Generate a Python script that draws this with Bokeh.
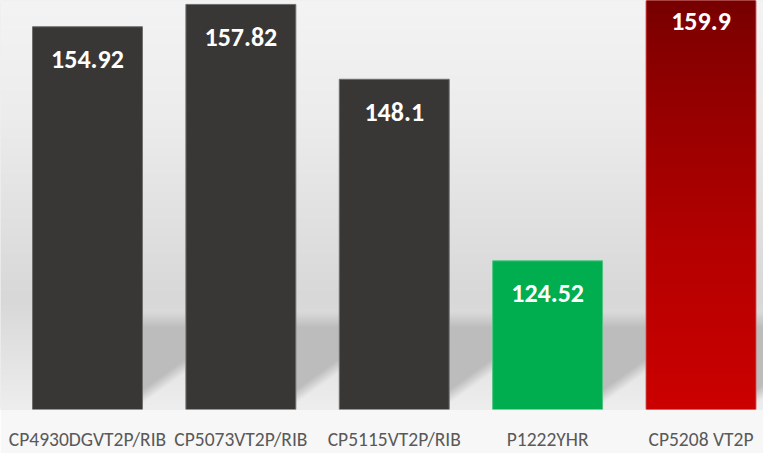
import numpy as np
from bokeh.plotting import figure
from bokeh.models import FixedTicker, Range1d, ColumnDataSource
from bokeh.core.properties import value
from bokeh.embed import file_html
from bokeh.resources import INLINE

categories = ["CP4930DGVT2P/RIB", "CP5073VT2P/RIB", "CP5115VT2P/RIB", "P1222YHR", "CP5208 VT2P"]
values = [154.92, 157.82, 148.1, 124.52, 159.9]
labels = ["154.92", "157.82", "148.1", "124.52", "159.9"]
bar_colors = ["#393735", "#393735", "#393735", "#00ae4f", "#c00000"]
edge_colors = ["#6e6e6e", "#6e6e6e", "#6e6e6e", "#4cc47f", "#d86060"]

FONT = "Carlito"
W, H = 763, 410          # frame size in px
Y0, Y1 = 105.21, 158.33  # value axis window
X0, X1 = -0.5672, 4.4075
BW = 0.7166

idx = list(range(len(categories)))

p = figure(width=763, height=453, x_range=Range1d(X0, X1), y_range=Range1d(Y0, Y1),
           output_backend="svg", toolbar_location=None, y_axis_location=None,
           min_border_left=0, min_border_right=0, min_border_top=0, min_border_bottom=43,
           border_fill_color="#f7f7f7", background_fill_color="#e0e0e0",
           outline_line_color=None)

# ---- background (wall gradient + floor shadows), decorative only
ys = np.arange(H) + 0.5
xs = np.arange(W) + 0.5
base = np.interp(ys, [0, 120, 300, 410], [244, 236, 216, 238])
img = np.tile(base[:, None], (1, W)).astype(float)
sx = W / (X1 - X0)
for i in idx:
    right_edge = (i + BW / 2 - X0) * sx
    nxt = (i + 1 - BW / 2 - X0) * sx if i + 1 < len(idx) else W
    dx = xs - right_edge
    cols = (dx >= 0) & (xs < nxt)
    t = np.clip((ys - 312) / 16.0, 0, 1)
    yb = 404 - 0.72 * dx
    b = np.clip((yb[None, :] - ys[:, None]) / 14.0, 0, 1)
    s = t[:, None] * b
    s[:, ~cols] = 0
    img = img * (1 - s) + 188 * s
arr = np.empty((H, W), dtype=np.uint32)
v = arr.view(dtype=np.uint8).reshape((H, W, 4))
g = np.clip(img, 0, 255).astype(np.uint8)
v[..., 0] = g
v[..., 1] = g
v[..., 2] = g
v[..., 3] = 255
p.image_rgba(image=[np.flipud(arr)], x=X0, y=Y0, dw=X1 - X0, dh=Y1 - Y0)

# ---- bars
src = ColumnDataSource(dict(x=idx, top=values, color=bar_colors, edge=edge_colors, label=labels))
p.vbar(x="x", top="top", bottom=Y0, width=BW, fill_color="color", line_color="edge",
       line_width=1, source=src)

# red bar gradient overlay
ri = 4
sy = H / (Y1 - Y0)
top_px = H - (values[ri] - Y0) * sy
n = 256
rows = np.linspace(top_px, H, n)
red = np.interp(rows, [0, 40, 120, 250, 410], [119, 133, 153, 181, 204])
red_arr = np.empty((n, 1), dtype=np.uint32)
rv = red_arr.view(dtype=np.uint8).reshape((n, 1, 4))
rv[:, 0, 0] = red.astype(np.uint8)
rv[:, 0, 1] = 0
rv[:, 0, 2] = 0
rv[:, 0, 3] = 255
p.image_rgba(image=[np.flipud(red_arr)], x=idx[ri] - BW / 2 + 0.004, y=Y0,
             dw=BW - 0.008, dh=values[ri] - Y0)

# value labels
p.text(x="x", y="top", text="label", source=src, text_color="white",
       text_font=value(FONT), text_font_style="bold", text_font_size="26px",
       text_align="center", text_baseline="middle", y_offset=33)

# axes
p.xaxis.ticker = FixedTicker(ticks=idx)
p.xaxis.major_label_overrides = {i: c for i, c in zip(idx, categories)}
p.xaxis.major_label_text_font = FONT
p.xaxis.major_label_text_font_size = "19.5px"
p.xaxis.major_label_text_color = "#595959"
p.xaxis.axis_line_color = None
p.xaxis.major_tick_line_color = None
p.xaxis.minor_tick_line_color = None
p.xaxis.major_label_standoff = 11
p.xgrid.visible = False
p.ygrid.visible = False

open("out.html", "w").write(file_html(p, INLINE))
